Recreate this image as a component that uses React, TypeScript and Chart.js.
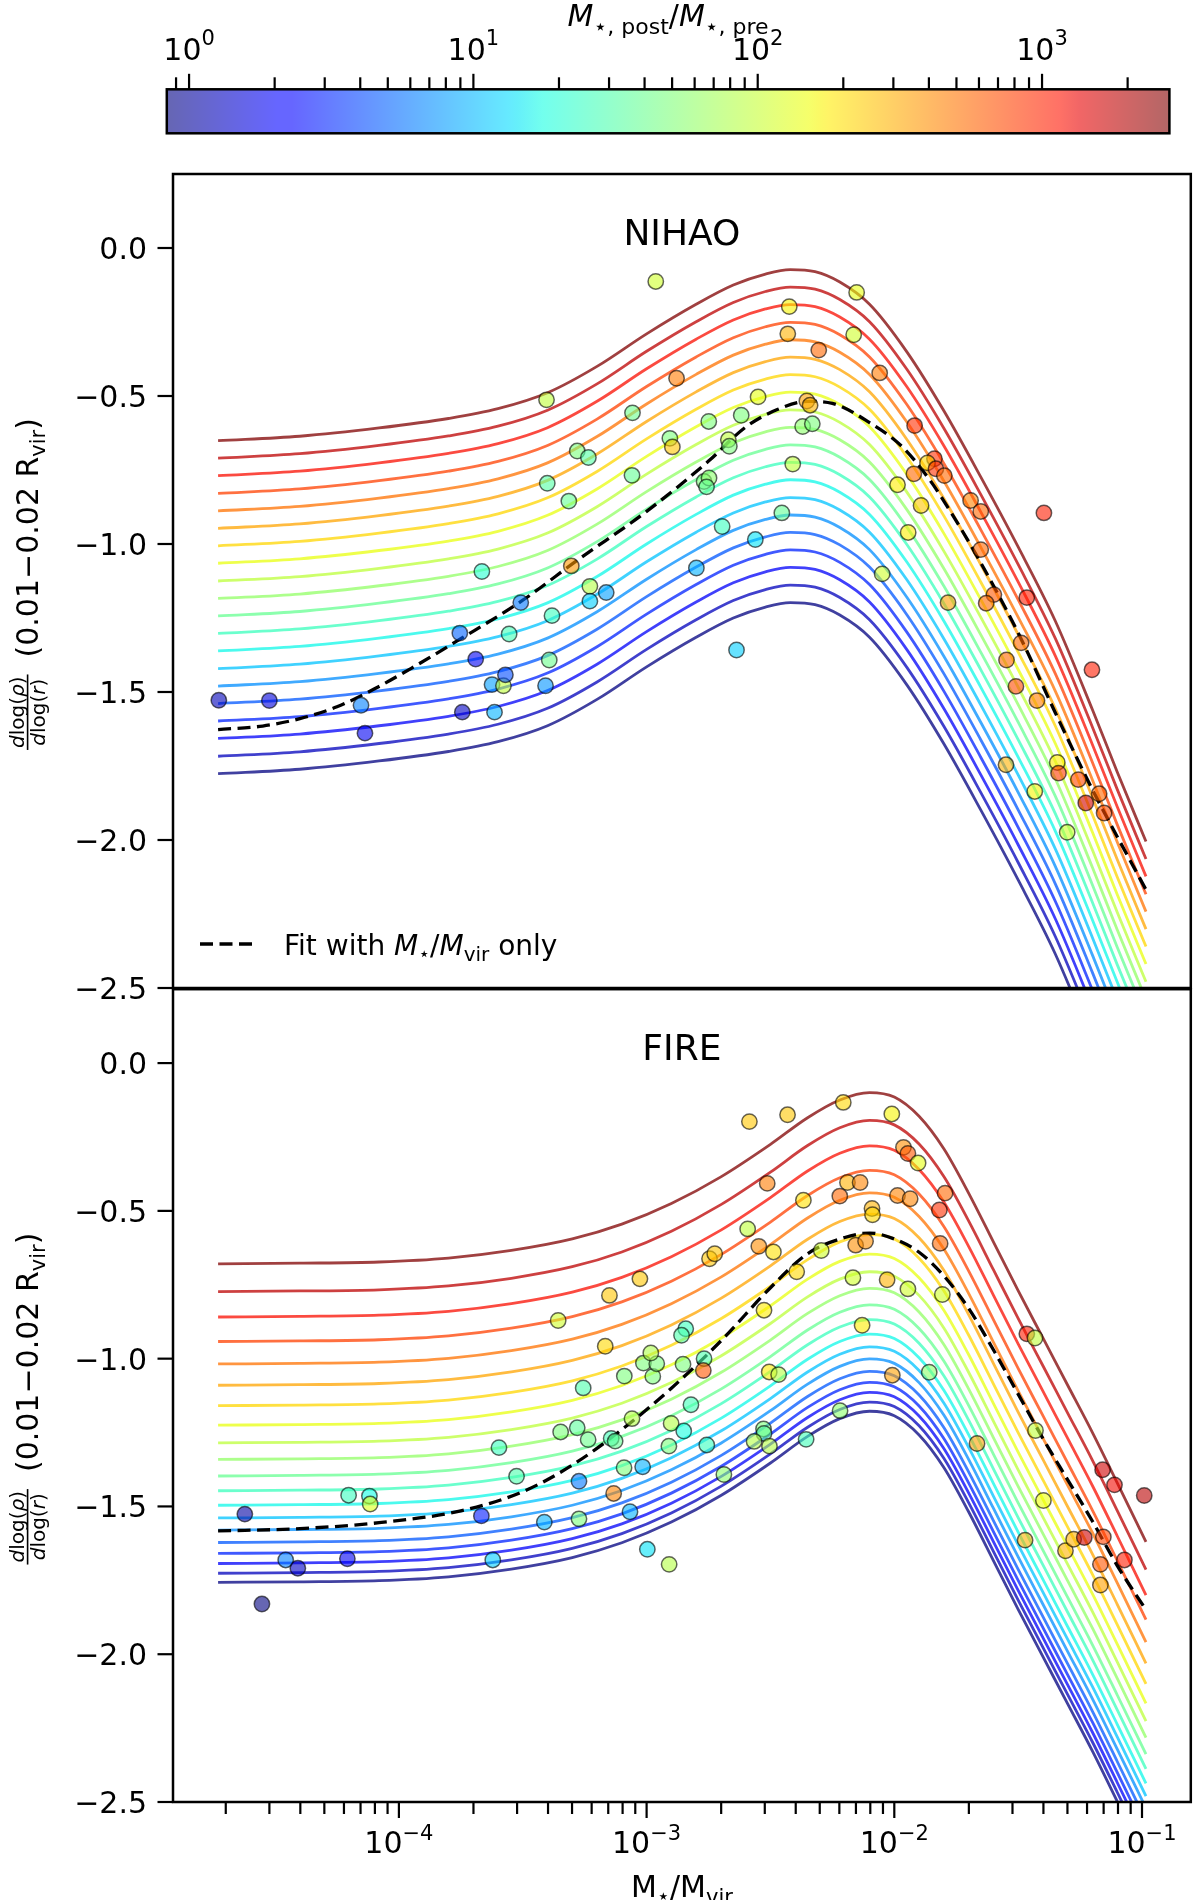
import { useEffect, useRef } from 'react';
import { Chart, registerables } from 'chart.js';

Chart.register(...registerables);

const FAMILY = "'DejaVu Sans', 'Noto Sans', sans-serif";

// ---------- colour bar: M*,post / M*,pre ----------
const RATIO_MIN = 0.835;
const RATIO_MAX = 2805;
const CBAR_MAJOR = [1, 10, 100, 1000];
const CBAR_EXPONENTS = ['0', '1', '2', '3'];
const CBAR_MINOR = [0.9, 2, 3, 4, 5, 6, 7, 8, 9, 20, 30, 40, 50, 60, 70, 80, 90, 200, 300, 400, 500, 600, 700, 800, 900, 2000];

// ---------- shared panel axes ----------
const X_MIN = 1.2246e-5;
const X_MAX = 0.1574;
const X_MAJOR = [1e-4, 1e-3, 1e-2, 1e-1];
const X_EXPONENTS = ['\u22124', '\u22123', '\u22122', '\u22121'];
const X_MINOR = [
  2e-5, 3e-5, 4e-5, 5e-5, 6e-5, 7e-5, 8e-5, 9e-5,
  2e-4, 3e-4, 4e-4, 5e-4, 6e-4, 7e-4, 8e-4, 9e-4,
  2e-3, 3e-3, 4e-3, 5e-3, 6e-3, 7e-3, 8e-3, 9e-3,
  2e-2, 3e-2, 4e-2, 5e-2, 6e-2, 7e-2, 8e-2, 9e-2,
];
const Y_MIN = -2.5;
const Y_MAX = 0.25;
const Y_TICKS = [0, -0.5, -1, -1.5, -2, -2.5];

// ratio assigned to each of the 20 model curves (top curve first)
const MODEL_RATIOS = [2805, 1832, 1194, 778, 508, 331, 216, 141, 91.9, 60.0, 39.1, 25.5, 16.6, 10.9, 7.08, 4.62, 3.01, 1.96, 1.28, 0.835];

// ---------- NIHAO ----------
const NIHAO_CURVE_LOGX = [-4.73, -4.4, -4.08, -3.8, -3.6, -3.4, -3.2, -3.0, -2.8, -2.65, -2.52, -2.42, -2.32, -2.22, -2.1, -1.95, -1.8, -1.65, -1.5, -1.35, -1.2, -1.1, -0.984];
const NIHAO_CURVE_TOP = [-0.651, -0.636, -0.608, -0.576, -0.543, -0.489, -0.40, -0.29, -0.19, -0.125, -0.088, -0.073, -0.08, -0.115, -0.19, -0.35, -0.55, -0.775, -1.01, -1.26, -1.56, -1.77, -2.005];
const NIHAO_OFFSETS = [0, 0.059, 0.118, 0.178, 0.237, 0.296, 0.355, 0.414, 0.474, 0.533, 0.592, 0.651, 0.710, 0.770, 0.829, 0.888, 0.947, 1.006, 1.066, 1.125];
const NIHAO_FIT_LOGX = [-4.73, -4.55, -4.4, -4.25, -4.1, -3.95, -3.76, -3.5, -3.28, -3.0, -2.75, -2.6, -2.47, -2.35, -2.25, -2.1, -1.97, -1.86, -1.77, -1.66, -1.5, -1.35, -1.2, -0.984];
const NIHAO_FIT = [-1.627, -1.615, -1.59, -1.55, -1.49, -1.42, -1.325, -1.19, -1.055, -0.89, -0.72, -0.605, -0.545, -0.518, -0.525, -0.59, -0.67, -0.78, -0.895, -1.05, -1.30, -1.57, -1.83, -2.168];

const NIHAO_LOGX = [
  -4.727, -4.523, -4.153, -4.137, -3.754, -3.690, -3.744, -3.614, -3.624, -3.578,
  -3.570, -3.393, -3.408, -3.382, -3.508, -3.555, -3.665, -3.304, -3.229, -3.163,
  -3.229, -3.404, -3.280, -3.235, -3.401, -3.314, -2.963, -2.424, -2.430, -2.305,
  -2.879, -2.550, -2.353, -2.340, -3.057, -2.749, -2.618, -2.370, -2.331, -2.906,
  -2.896, -2.670, -2.666, -2.410, -3.059, -2.768, -2.748, -2.758, -2.454, -2.695,
  -2.561, -2.799, -2.637, -2.152, -2.164, -2.059, -1.918, -1.838, -1.866, -1.832,
  -1.921, -1.798, -1.987, -1.692, -1.651, -1.892, -1.396, -1.944, -1.651, -2.049,
  -1.783, -1.598, -1.629, -1.465, -1.488, -1.547, -1.202, -1.509, -1.424, -1.549,
  -1.342, -1.337, -1.257, -1.433, -1.173, -1.227, -1.153, -1.302,
];
const NIHAO_SLOPE = [
  -1.528, -1.529, -1.545, -1.639, -1.301, -1.389, -1.568, -1.568, -1.475, -1.479,
  -1.442, -1.392, -1.479, -1.242, -1.198, -1.304, -1.093, -1.074, -1.143, -1.164,
  -1.193, -0.513, -0.686, -0.708, -0.795, -0.855, -0.113, -0.198, -0.290, -0.345,
  -0.440, -0.503, -0.517, -0.531, -0.557, -0.586, -0.565, -0.603, -0.594, -0.643,
  -0.672, -0.648, -0.670, -0.730, -0.768, -0.789, -0.777, -0.807, -0.895, -0.941,
  -0.985, -1.081, -1.358, -0.150, -0.293, -0.422, -0.600, -0.712, -0.726, -0.746,
  -0.763, -0.769, -0.800, -0.853, -0.890, -0.870, -0.895, -0.961, -1.019, -1.101,
  -1.198, -1.171, -1.200, -1.181, -1.334, -1.392, -1.425, -1.481, -1.529, -1.746,
  -1.738, -1.774, -1.796, -1.836, -1.844, -1.875, -1.909, -1.974,
];
const NIHAO_RATIO = [
  1.25, 1.6, 6.4, 1.88, 5.0, 1.88, 1.36, 9.5, 8.1, 93,
  4.2, 41, 7.5, 25, 5.9, 27, 21, 370, 85, 8.1,
  12, 93, 48, 32, 32, 38, 109, 164, 289, 553,
  470, 139, 340, 289, 41, 48, 48, 57, 48, 48,
  245, 93, 48, 93, 38, 48, 57, 38, 38, 25,
  14, 9.5, 12, 139, 109, 470, 900, 900, 209, 900,
  553, 553, 177, 434, 553, 245, 1060, 177, 553, 109,
  340, 650, 553, 1060, 553, 553, 1060, 706, 470, 289,
  177, 830, 766, 164, 553, 1590, 706, 109,
];

// ---------- FIRE ----------
const FIRE_CURVE_LOGX = [-4.73, -4.4, -4.08, -3.8, -3.546, -3.3, -3.1, -2.9, -2.7, -2.5, -2.35, -2.22, -2.1, -2.0, -1.9, -1.8, -1.7, -1.6, -1.5, -1.4, -1.3, -1.2, -1.1, -0.984];
const FIRE_CURVE_TOP = [-0.679, -0.677, -0.673, -0.66, -0.634, -0.595, -0.545, -0.475, -0.385, -0.275, -0.185, -0.125, -0.100, -0.115, -0.18, -0.29, -0.44, -0.605, -0.77, -0.93, -1.09, -1.25, -1.42, -1.62];
const FIRE_OFFSETS = [0, 0.094, 0.180, 0.263, 0.339, 0.411, 0.480, 0.546, 0.606, 0.662, 0.718, 0.768, 0.817, 0.860, 0.901, 0.943, 0.980, 1.014, 1.047, 1.078];
const FIRE_FIT_LOGX = [-4.73, -4.4, -4.08, -3.75, -3.5, -3.3, -3.1, -2.9, -2.7, -2.5, -2.35, -2.2, -2.1, -2.0, -1.9, -1.8, -1.7, -1.6, -1.5, -1.4, -1.3, -1.2, -1.1, -0.984];
const FIRE_FIT = [-1.583, -1.575, -1.555, -1.515, -1.45, -1.36, -1.24, -1.10, -0.94, -0.76, -0.645, -0.59, -0.575, -0.595, -0.64, -0.72, -0.83, -0.97, -1.12, -1.27, -1.41, -1.55, -1.70, -1.85];

const FIRE_LOGX = [
  -4.622, -4.553, -4.457, -4.408, -4.208, -4.203, -4.119, -4.116, -3.667, -3.621,
  -3.596, -3.525, -3.413, -3.273, -3.273, -3.347, -3.280, -3.236, -3.143, -3.127,
  -3.133, -3.067, -3.091, -3.016, -2.997, -2.909, -3.059, -2.901, -2.850, -2.910,
  -2.757, -2.821, -2.688, -2.528, -2.526, -2.566, -2.504, -2.356, -2.219,
  -3.256, -3.090, -2.975, -3.013, -2.959, -2.983, -2.853, -2.768, -2.771, -2.842,
  -2.859, -2.505, -2.467, -3.357, -3.167, -3.150, -3.027, -2.746, -2.725, -2.592,
  -2.547, -2.488, -2.526, -2.394, -2.367, -2.513, -2.585, -2.431, -2.206, -2.010,
  -1.963, -1.945, -1.904, -2.189, -2.138, -2.220, -1.987, -1.936, -1.795, -1.818,
  -2.090, -2.088, -2.295, -2.156, -2.116, -1.815, -2.167, -2.029, -1.945, -1.806,
  -2.130, -1.465, -1.432, -2.008, -1.859,
  -1.430, -1.666, -1.159, -1.111, -0.991, -1.398, -1.472, -1.309, -1.276, -1.233,
  -1.156, -1.168, -1.071, -1.168,
];
const FIRE_SLOPE = [
  -1.526, -1.830, -1.681, -1.709, -1.677, -1.462, -1.465, -1.492, -1.532, -1.681,
  -1.301, -1.398, -1.553, -1.542, -1.415, -1.248, -1.234, -1.274, -1.270, -1.279,
  -1.456, -1.518, -1.369, -1.366, -1.645, -1.696, -1.203, -1.219, -1.245, -1.296,
  -1.292, -1.156, -1.392, -1.238, -1.253, -1.280, -1.296, -1.273, -1.176,
  -1.099, -1.059, -1.060, -1.015, -1.017, -0.981, -1.019, -1.000, -1.040, -0.899,
  -0.921, -1.045, -1.054, -0.871, -0.958, -0.786, -0.730, -0.662, -0.645, -0.561,
  -0.620, -0.639, -0.836, -0.706, -0.464, -0.407, -0.198, -0.175, -0.133, -0.172,
  -0.285, -0.306, -0.338, -0.404, -0.404, -0.450, -0.448, -0.459, -0.440, -0.497,
  -0.492, -0.513, -0.634, -0.616, -0.603, -0.610, -0.726, -0.733, -0.764, -0.783,
  -0.887, -0.916, -0.930, -1.056, -1.046,
  -1.243, -1.287, -1.376, -1.427, -1.463, -1.480, -1.614, -1.650, -1.611, -1.605,
  -1.603, -1.696, -1.681, -1.766,
];
const FIRE_RATIO = [
  1.07, 0.84, 6.4, 1.36, 1.88, 25, 17, 128, 2.8, 12,
  25, 30, 9.5, 48, 5.9, 48, 35, 41, 27, 38,
  434, 9.5, 48, 9.5, 14, 85, 85, 85, 18, 48,
  25, 27, 57, 48, 38, 85, 85, 27, 57,
  30, 48, 48, 48, 48, 79, 48, 30, 650, 25,
  30, 177, 85, 109, 209, 245, 245, 245, 245, 93,
  400, 192, 177, 209, 192, 470, 245, 245, 209, 164,
  400, 650, 139, 289, 434, 553, 434, 434, 553, 900,
  289, 209, 109, 400, 400, 553, 109, 289, 109, 109,
  177, 1060, 93, 340, 57,
  93, 340, 1590, 1245, 1870, 151, 289, 289, 289, 1590,
  766, 650, 1060, 340,
];

// ---------- jet colour map ----------
const JET_R = [[0, 0], [0.35, 0], [0.66, 1], [0.89, 1], [1, 0.5]];
const JET_G = [[0, 0], [0.125, 0], [0.375, 1], [0.64, 1], [0.91, 0], [1, 0]];
const JET_B = [[0, 0.5], [0.11, 1], [0.34, 1], [0.65, 0], [1, 0]];
const JET_STOPS = [0, 0.11, 0.125, 0.34, 0.35, 0.375, 0.64, 0.65, 0.66, 0.89, 0.91, 1];

function channel(table: number[][], t: number) {
  for (let i = 1; i < table.length; i++) {
    if (t <= table[i][0]) {
      const [x0, y0] = table[i - 1];
      const [x1, y1] = table[i];
      return y0 + ((y1 - y0) * (t - x0)) / (x1 - x0);
    }
  }
  return table[table.length - 1][1];
}
function jet(t: number, alpha: number) {
  const u = Math.min(1, Math.max(0, t));
  const r = Math.round(channel(JET_R, u) * 255);
  const g = Math.round(channel(JET_G, u) * 255);
  const b = Math.round(channel(JET_B, u) * 255);
  return `rgba(${r},${g},${b},${alpha})`;
}
function ratioToUnit(r: number) {
  const lo = Math.log10(RATIO_MIN);
  const hi = Math.log10(RATIO_MAX);
  return (Math.log10(r) - lo) / (hi - lo);
}
function ratioColour(r: number, alpha: number) {
  return jet(ratioToUnit(r), alpha);
}

// ---------- text helpers ----------
type Run = { text: string; size: number; italic?: boolean; rise?: number };
function fontOf(r: Run) {
  return `${r.italic ? 'italic ' : ''}${r.size}px ${FAMILY}`;
}
function runsWidth(ctx: CanvasRenderingContext2D, runs: Run[]) {
  let w = 0;
  for (const r of runs) {
    ctx.font = fontOf(r);
    w += ctx.measureText(r.text).width;
  }
  return w;
}
function drawRuns(ctx: CanvasRenderingContext2D, runs: Run[], x: number, y: number, align: 'left' | 'center' | 'right') {
  const w = runsWidth(ctx, runs);
  let cx = align === 'center' ? x - w / 2 : align === 'right' ? x - w : x;
  ctx.textAlign = 'left';
  ctx.textBaseline = 'alphabetic';
  for (const r of runs) {
    ctx.font = fontOf(r);
    ctx.fillText(r.text, cx, y - (r.rise || 0));
    cx += ctx.measureText(r.text).width;
  }
}
function segment(ctx: CanvasRenderingContext2D, x0: number, y0: number, x1: number, y1: number) {
  ctx.beginPath();
  ctx.moveTo(x0, y0);
  ctx.lineTo(x1, y1);
  ctx.stroke();
}

function drawYLabel(ctx: CanvasRenderingContext2D, baselineX: number, centerY: number) {
  const num: Run[] = [{ text: 'd', size: 20, italic: true }, { text: 'log(', size: 20 }, { text: '\u03c1', size: 20, italic: true }, { text: ')', size: 20 }];
  const den: Run[] = [{ text: 'd', size: 20, italic: true }, { text: 'log(', size: 20 }, { text: 'r', size: 20, italic: true }, { text: ')', size: 20 }];
  const main: Run[] = [{ text: '(0.01\u22120.02 R', size: 30 }, { text: 'vir', size: 21, rise: -7 }, { text: ')', size: 30 }];
  ctx.save();
  ctx.translate(baselineX, centerY);
  ctx.rotate(-Math.PI / 2);
  const fw = Math.max(runsWidth(ctx, num), runsWidth(ctx, den)) + 4;
  const gap = 17;
  const total = fw + gap + runsWidth(ctx, main);
  const x0 = -total / 2;
  drawRuns(ctx, num, x0 + fw / 2, -14, 'center');
  drawRuns(ctx, den, x0 + fw / 2, 7, 'center');
  ctx.fillRect(x0, -11.2, fw, 1.6);
  drawRuns(ctx, main, x0 + fw + gap, 0, 'left');
  ctx.restore();
}

// ---------- panels ----------
type PanelSpec = {
  name: string;
  curveLogX: number[];
  curveTop: number[];
  offsets: number[];
  fitLogX: number[];
  fit: number[];
  logX: number[];
  slope: number[];
  ratio: number[];
  legend: boolean;
  xAxis: boolean;
  padding: { left: number; right: number; top: number; bottom: number };
};

const NIHAO_SPEC: PanelSpec = {
  name: 'NIHAO',
  curveLogX: NIHAO_CURVE_LOGX,
  curveTop: NIHAO_CURVE_TOP,
  offsets: NIHAO_OFFSETS,
  fitLogX: NIHAO_FIT_LOGX,
  fit: NIHAO_FIT,
  logX: NIHAO_LOGX,
  slope: NIHAO_SLOPE,
  ratio: NIHAO_RATIO,
  legend: true,
  xAxis: false,
  padding: { left: 173, right: 4, top: 14, bottom: 12 },
};

const FIRE_SPEC: PanelSpec = {
  name: 'FIRE',
  curveLogX: FIRE_CURVE_LOGX,
  curveTop: FIRE_CURVE_TOP,
  offsets: FIRE_OFFSETS,
  fitLogX: FIRE_FIT_LOGX,
  fit: FIRE_FIT,
  logX: FIRE_LOGX,
  slope: FIRE_SLOPE,
  ratio: FIRE_RATIO,
  legend: false,
  xAxis: true,
  padding: { left: 173, right: 4, top: 8, bottom: 98 },
};

function panelDecor(spec: PanelSpec) {
  return {
    id: 'panelDecor',
    afterDraw(chart: any) {
      const { ctx, chartArea: a } = chart;
      const xs = chart.scales.x;
      const ys = chart.scales.y;
      ctx.save();
      ctx.strokeStyle = '#000';
      ctx.fillStyle = '#000';
      ctx.setLineDash([]);
      ctx.lineWidth = 2.5;
      ctx.strokeRect(a.left, a.top, a.right - a.left, a.bottom - a.top);

      ctx.lineWidth = 2.2;
      for (const v of Y_TICKS) {
        const py = ys.getPixelForValue(v);
        segment(ctx, a.left - 15.5, py, a.left, py);
        const label = v === 0 ? '0.0' : '\u2212' + Math.abs(v).toFixed(1);
        drawRuns(ctx, [{ text: label, size: 30 }], a.left - 26, py + 11, 'right');
      }

      if (spec.xAxis) {
        X_MAJOR.forEach((v, i) => {
          const px = xs.getPixelForValue(v);
          segment(ctx, px, a.bottom, px, a.bottom + 16);
          drawRuns(ctx, [{ text: '10', size: 30 }, { text: X_EXPONENTS[i], size: 21, rise: 13 }], px, a.bottom + 51, 'center');
        });
        for (const v of X_MINOR) {
          const px = xs.getPixelForValue(v);
          segment(ctx, px, a.bottom, px, a.bottom + 12);
        }
        drawRuns(
          ctx,
          [
            { text: 'M', size: 30 },
            { text: '\u22c6', size: 21, rise: -6 },
            { text: '/M', size: 30 },
            { text: 'vir', size: 21, rise: -7 },
          ],
          (a.left + a.right) / 2,
          a.bottom + 95,
          'center',
        );
      }

      drawRuns(ctx, [{ text: spec.name, size: 36 }], (a.left + a.right) / 2, a.top + 71, 'center');

      if (spec.legend) {
        ctx.lineWidth = 3.3;
        ctx.setLineDash([13, 6.5]);
        segment(ctx, 200, a.bottom - 44, 253, a.bottom - 44);
        ctx.setLineDash([]);
        drawRuns(
          ctx,
          [
            { text: 'Fit with ', size: 28 },
            { text: 'M', size: 28, italic: true },
            { text: '\u22c6', size: 19, rise: -5 },
            { text: '/', size: 28 },
            { text: 'M', size: 28, italic: true },
            { text: 'vir', size: 20, rise: -6 },
            { text: ' only', size: 28 },
          ],
          284,
          a.bottom - 33,
          'left',
        );
      }

      drawYLabel(ctx, 38, (a.top + a.bottom) / 2 + 3);
      ctx.restore();
    },
  };
}

function makePanel(canvas: HTMLCanvasElement, spec: PanelSpec) {
  const points = spec.logX.map((lx, i) => ({ x: Math.pow(10, lx), y: spec.slope[i] }));
  const pointColours = spec.ratio.map((r) => ratioColour(r, 0.6));
  const datasets: any[] = [
    {
      label: spec.name,
      data: points,
      showLine: false,
      pointRadius: 7.7,
      pointBackgroundColor: pointColours,
      backgroundColor: pointColours,
      pointBorderColor: 'rgba(0,0,0,0.6)',
      pointBorderWidth: 1.5,
      order: 0,
    },
    {
      label: 'Fit with M*/Mvir only',
      data: spec.fitLogX.map((lx, i) => ({ x: Math.pow(10, lx), y: spec.fit[i] })),
      showLine: true,
      borderColor: '#000',
      borderWidth: 3.3,
      borderDash: [13, 6.5],
      pointRadius: 0,
      cubicInterpolationMode: 'monotone',
      clip: 0,
      order: 1,
    },
  ];
  spec.offsets.forEach((off, k) => {
    datasets.push({
      label: `model ${k}`,
      data: spec.curveLogX.map((lx, i) => ({ x: Math.pow(10, lx), y: spec.curveTop[i] - off })),
      showLine: true,
      borderColor: ratioColour(MODEL_RATIOS[k], 0.75),
      borderWidth: 2.8,
      pointRadius: 0,
      cubicInterpolationMode: 'monotone',
      clip: 0,
      order: 2 + k,
    });
  });

  return new Chart(canvas, {
    type: 'scatter',
    data: { datasets },
    options: {
      animation: false,
      responsive: false,
      devicePixelRatio: 1,
      events: [],
      layout: { padding: spec.padding },
      elements: { line: { capBezierPoints: false } as any },
      plugins: { legend: { display: false }, tooltip: { enabled: false } },
      scales: {
        x: { type: 'logarithmic', min: X_MIN, max: X_MAX, display: false },
        y: { type: 'linear', min: Y_MIN, max: Y_MAX, display: false },
      },
    } as any,
    plugins: [panelDecor(spec)],
  });
}

// ---------- colour bar ----------
const colourBarDecor = {
  id: 'colourBarDecor',
  afterDraw(chart: any) {
    const { ctx, chartArea: a } = chart;
    const xs = chart.scales.x;
    ctx.save();
    ctx.strokeStyle = '#000';
    ctx.fillStyle = '#000';
    ctx.lineWidth = 2.5;
    ctx.strokeRect(a.left, a.top, a.right - a.left, a.bottom - a.top);
    ctx.lineWidth = 2.2;
    CBAR_MAJOR.forEach((v, i) => {
      const px = xs.getPixelForValue(v);
      segment(ctx, px, a.top, px, a.top - 15.5);
      drawRuns(ctx, [{ text: '10', size: 30 }, { text: CBAR_EXPONENTS[i], size: 21, rise: 15 }], px, a.top - 29, 'center');
    });
    for (const v of CBAR_MINOR) {
      const px = xs.getPixelForValue(v);
      segment(ctx, px, a.top, px, a.top - 12);
    }
    drawRuns(
      ctx,
      [
        { text: 'M', size: 30, italic: true },
        { text: '\u22c6, post', size: 22, rise: -8 },
        { text: '/', size: 30 },
        { text: 'M', size: 30, italic: true },
        { text: '\u22c6, pre', size: 22, rise: -8 },
      ],
      (a.left + a.right) / 2,
      26,
      'center',
    );
    ctx.restore();
  },
};

function makeColourBar(canvas: HTMLCanvasElement) {
  return new Chart(canvas, {
    type: 'bar',
    data: {
      labels: [''],
      datasets: [
        {
          label: 'M*,post/M*,pre',
          data: [[RATIO_MIN, RATIO_MAX]],
          barPercentage: 1,
          categoryPercentage: 1,
          borderWidth: 0,
          backgroundColor: (c: any) => {
            const area = c.chart.chartArea;
            if (!area) return 'rgba(0,0,0,0)';
            const g = c.chart.ctx.createLinearGradient(area.left, 0, area.right, 0);
            for (const t of JET_STOPS) g.addColorStop(t, jet(t, 0.6));
            return g;
          },
        },
      ],
    },
    options: {
      indexAxis: 'y',
      animation: false,
      responsive: false,
      devicePixelRatio: 1,
      events: [],
      layout: { padding: { left: 166.8, right: 30.6, top: 89.3, bottom: 26.7 } },
      plugins: { legend: { display: false }, tooltip: { enabled: false } },
      scales: {
        x: { type: 'logarithmic', min: RATIO_MIN, max: RATIO_MAX, display: false },
        y: { display: false },
      },
    } as any,
    plugins: [colourBarDecor],
  });
}

export default function App() {
  const barRef = useRef<HTMLCanvasElement>(null);
  const topRef = useRef<HTMLCanvasElement>(null);
  const bottomRef = useRef<HTMLCanvasElement>(null);

  useEffect(() => {
    const charts = [
      makeColourBar(barRef.current as HTMLCanvasElement),
      makePanel(topRef.current as HTMLCanvasElement, NIHAO_SPEC),
      makePanel(bottomRef.current as HTMLCanvasElement, FIRE_SPEC),
    ];
    return () => charts.forEach((c) => c.destroy());
  }, []);

  return (
    <div style={{ position: 'absolute', left: 0, top: 0, width: 1200, height: 1900, background: '#fff', overflow: 'hidden' }}>
      <canvas ref={barRef} width={1200} height={160} style={{ position: 'absolute', left: 0, top: 0, width: 1200, height: 160 }} />
      <canvas ref={topRef} width={1200} height={840} style={{ position: 'absolute', left: 0, top: 160, width: 1200, height: 840 }} />
      <canvas ref={bottomRef} width={1200} height={920} style={{ position: 'absolute', left: 0, top: 980, width: 1200, height: 920 }} />
    </div>
  );
}
